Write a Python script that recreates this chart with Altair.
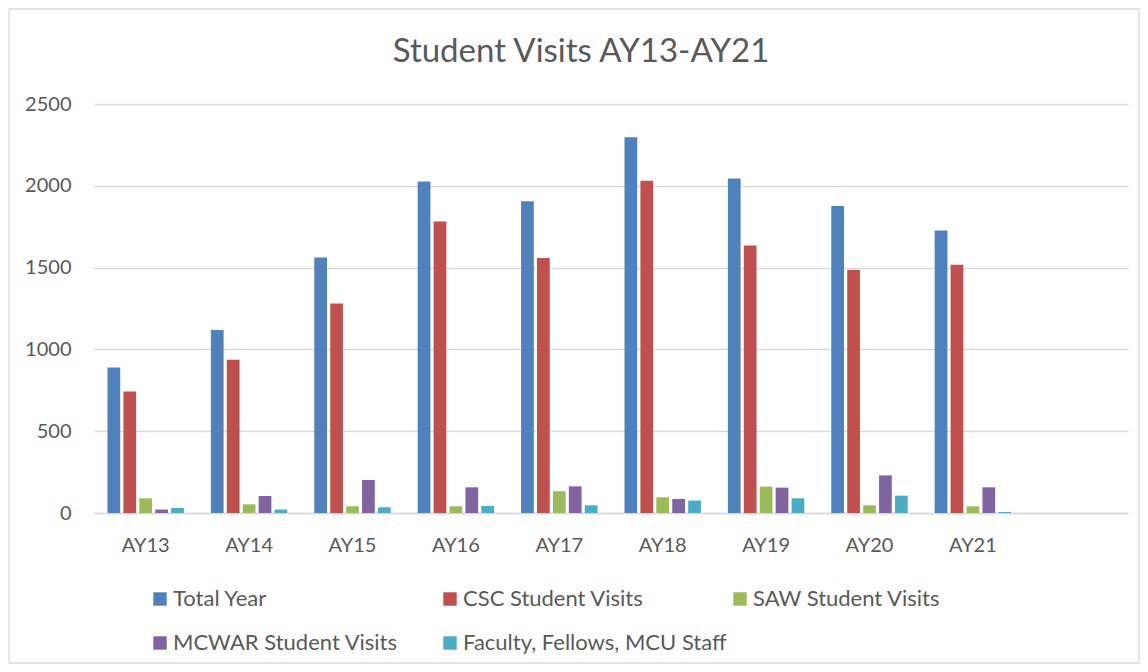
import altair as alt
import pandas as pd

years = ["AY13", "AY14", "AY15", "AY16", "AY17", "AY18", "AY19", "AY20", "AY21"]
axis_slots = years + [" "]
series = ["Total Year", "CSC Student Visits", "SAW Student Visits",
          "MCWAR Student Visits", "Faculty, Fellows, MCU Staff"]
colors = ["#4F81BD", "#C0504D", "#9BBB59", "#8064A2", "#4BACC6"]

total_year = [889, 1119, 1562, 2027, 1906, 2296, 2045, 1876, 1727]
csc_visits = [742, 936, 1281, 1782, 1558, 2031, 1635, 1486, 1517]
saw_visits = [90, 53, 41, 41, 133, 96, 161, 47, 41]
mcwar_visits = [21, 104, 202, 157, 163, 86, 155, 230, 157]
faculty_staff = [31, 21, 35, 43, 47, 76, 90, 106, 6]

values = [total_year, csc_visits, saw_visits, mcwar_visits, faculty_staff]
rows = []
for s, vals in zip(series, values):
    for y, v in zip(years, vals):
        rows.append({"year": y, "series": s, "value": v})
df = pd.DataFrame(rows)

FONT = "Lato"
TXT = "#595959"
W, H = 1034, 409

bars = alt.Chart(df).mark_bar().encode(
    x=alt.X("year:N", scale=alt.Scale(domain=axis_slots, paddingInner=0.23, paddingOuter=0.115),
            axis=alt.Axis(title=None, ticks=False, domain=True, domainColor="#D9D9D9", domainWidth=1.3,
                          labelAngle=0, labelFontSize=20, labelColor=TXT, labelFont=FONT,
                          labelPadding=22, grid=False)),
    xOffset=alt.XOffset("series:N", sort=series,
                        scale=alt.Scale(domain=series, paddingInner=0.2, paddingOuter=0.1)),
    y=alt.Y("value:Q", scale=alt.Scale(domain=[0, 2500], nice=False),
            axis=alt.Axis(title=None, values=[0, 500, 1000, 1500, 2000, 2500], format="d",
                          ticks=False, domain=False,
                          gridColor="#D9D9D9", gridWidth=1.3, labelFontSize=20, labelColor=TXT,
                          labelFont=FONT, labelPadding=23)),
    color=alt.Color("series:N", sort=series,
                    scale=alt.Scale(domain=series, range=colors),
                    legend=alt.Legend(title=None, orient="none", legendX=55, legendY=484,
                                      direction="horizontal", columns=3, gridAlign="all",
                                      columnPadding=2, rowPadding=22, padding=0,
                                      symbolType="square", symbolSize=180, symbolStrokeWidth=0,
                                      symbolOpacity=1, labelOffset=2, labelFontSize=22,
                                      labelColor=TXT, labelFont=FONT, labelLimit=400)),
)

frame = alt.Chart(pd.DataFrame({"f": [0]})).mark_rect(
    fill=None, stroke="#D9D9D9", strokeWidth=1.3
).encode(
    x=alt.value(-85), x2=alt.value(W + 11), y=alt.value(-95), y2=alt.value(H + 150)
)

chart = alt.layer(bars, frame).properties(
    width=W,
    height=H,
    title=alt.TitleParams("Student Visits AY13-AY21", fontSize=33, font=FONT, fontWeight="normal",
                          color=TXT, anchor="middle", dx=-30, offset=-61),
    padding={"left": 86, "top": 96, "right": 12, "bottom": 151},
    autosize=alt.AutoSizeParams(type="none"),
).configure(background="white").configure_view(strokeWidth=0)

chart.save("out.html", embed_options={"renderer": "svg", "actions": False})
